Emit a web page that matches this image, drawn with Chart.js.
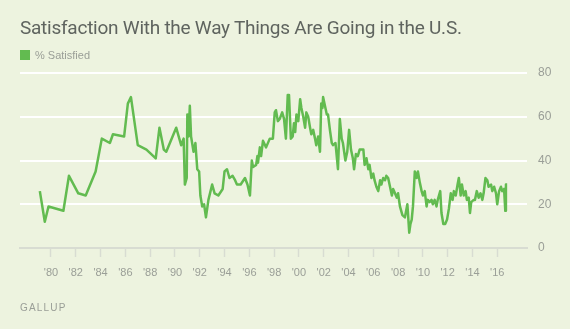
<!DOCTYPE html>
<html>
<head>
<meta charset="utf-8">
<script src="https://cdn.jsdelivr.net/npm/chart.js@4.4.0/dist/chart.umd.min.js"></script>
<style>
  body { margin: 0; background: #edf3df; }
  #wrap { position: relative; width: 570px; height: 329px; background: #edf3df; overflow: hidden; }
  #title { position: absolute; left: 20px; top: 16px; font-family: Roboto, "Liberation Sans", sans-serif; font-size: 19px; letter-spacing: -0.25px; color: #5f645f; white-space: nowrap; }
  #legend { position: absolute; left: 20px; top: 49px; font-family: "Liberation Sans", sans-serif; font-size: 11px; color: #9a9e97; }
  #legend span.box { display: inline-block; width: 10px; height: 10px; background: #62bb50; vertical-align: -1px; margin-right: 5px; }
  #source { position: absolute; left: 20px; top: 302px; font-family: "Liberation Sans", sans-serif; font-size: 10px; letter-spacing: 1.2px; color: #9a9e97; }
  canvas { position: absolute; left: 0; top: 0; }
</style>
</head>
<body>
<div id="wrap">
  <canvas id="myChart" width="570" height="329"></canvas>
  <div id="title">Satisfaction With the Way Things Are Going in the U.S.</div>
  <div id="legend"><span class="box"></span>% Satisfied</div>
  <div id="source">GALLUP</div>
</div>
<script>
// survey dates (decimal years) and % satisfied
const surveyDates = [
  1979.1, 1979.5, 1979.8, 1981.0, 1981.45, 1982.2, 1982.8, 1983.6, 1984.1, 1984.75,
  1985.0, 1985.9, 1986.2, 1986.45, 1987.0, 1987.7, 1988.45, 1988.75, 1989.1, 1989.3,
  1990.1, 1990.5, 1990.7, 1990.8, 1990.95, 1991.0, 1991.1, 1991.2, 1991.3, 1991.5,
  1991.65, 1991.8, 1991.95, 1992.05, 1992.2, 1992.35, 1992.5, 1992.7, 1993.0, 1993.2,
  1993.5, 1993.85, 1994.0, 1994.2, 1994.4, 1994.65, 1994.85, 1995.0, 1995.3, 1995.65,
  1995.85, 1996.05, 1996.2, 1996.3, 1996.55, 1996.65, 1996.7, 1996.85, 1996.95, 1997.1,
  1997.35, 1997.65, 1997.9, 1998.05, 1998.15, 1998.3, 1998.45, 1998.65, 1998.8, 1998.95,
  1999.1, 1999.2, 1999.35, 1999.5, 1999.6, 1999.7, 1999.8, 1999.95, 2000.1, 2000.2,
  2000.35, 2000.5, 2000.6, 2000.75, 2000.9, 2001.0, 2001.15, 2001.3, 2001.4, 2001.55,
  2001.7, 2001.8, 2001.9, 2001.95, 2002.1, 2002.25, 2002.35, 2002.5, 2002.65, 2002.75,
  2002.95, 2003.15, 2003.3, 2003.45, 2003.55, 2003.75, 2003.9, 2004.05, 2004.2, 2004.35,
  2004.45, 2004.6, 2004.75, 2004.9, 2005.2, 2005.3, 2005.45, 2005.6, 2005.7, 2005.85,
  2006.0, 2006.1, 2006.25, 2006.4, 2006.55, 2006.65, 2006.8, 2006.95, 2007.05, 2007.2,
  2007.35, 2007.5, 2007.6, 2007.75, 2007.9, 2008.0, 2008.15, 2008.35, 2008.55, 2008.75,
  2008.9, 2009.0, 2009.1, 2009.2, 2009.35, 2009.5, 2009.6, 2009.75, 2009.9, 2010.0,
  2010.15, 2010.3, 2010.4, 2010.55, 2010.7, 2010.8, 2010.95, 2011.1, 2011.2, 2011.4,
  2011.5, 2011.65, 2011.8, 2011.95, 2012.1, 2012.25, 2012.4, 2012.5, 2012.65, 2012.8,
  2012.9, 2013.05, 2013.15, 2013.3, 2013.45, 2013.55, 2013.7, 2013.8, 2013.9, 2014.1,
  2014.2, 2014.35, 2014.5, 2014.65, 2014.8, 2014.9, 2015.05, 2015.2, 2015.3, 2015.5,
  2015.6, 2015.75, 2015.9, 2016.0, 2016.15, 2016.3, 2016.4, 2016.55, 2016.65, 2016.7,
  2016.8
];
const pctSatisfied = [
  26, 12, 19, 17, 33, 25, 24, 35, 50, 48,
  52, 51, 66, 69, 47, 45, 41, 55, 45, 44,
  55, 47, 50, 29, 32, 61, 51, 65, 51, 44,
  48, 36, 35, 24, 19, 20, 14, 22, 29, 25,
  24, 27, 35, 36, 32, 33, 31, 29, 29, 32,
  29, 24, 40, 37, 38, 42, 39, 46, 42, 49,
  46, 50, 50, 62, 63, 58, 59, 62, 59, 50,
  70, 70, 50, 51, 57, 53, 61, 58, 68, 64,
  60, 55, 62, 60, 55, 52, 54, 50, 47, 51,
  44, 66, 64, 69, 65, 61, 61, 54, 48, 47,
  48, 36, 59, 50, 48, 40, 44, 54, 45, 41,
  36, 43, 42, 45, 45, 38, 41, 36, 38, 32,
  34, 31, 28, 26, 31, 29, 32, 31, 33, 32,
  28, 24, 27, 25, 23, 25, 19, 15, 14, 20,
  7, 11, 13, 19, 35, 32, 35, 30, 26, 24,
  26, 19, 22, 21, 22, 20, 22, 19, 22, 26,
  16, 11, 11, 13, 18, 25, 22, 26, 24, 29,
  32, 24, 29, 24, 26, 22, 23, 16, 21, 22,
  22, 26, 23, 25, 22, 25, 32, 31, 28, 29,
  26, 28, 25, 20, 26, 28, 26, 27, 17, 29,
  29
];
const yearTicks = [1980, 1982, 1984, 1986, 1988, 1990, 1992, 1994, 1996, 1998,
  2000, 2002, 2004, 2006, 2008, 2010, 2012, 2014, 2016];
const valueTicks = [0, 20, 40, 60, 80];

const points = surveyDates.map((d, i) => {
  return { x: d, y: pctSatisfied[i] };
});

const canvas = document.getElementById("myChart").getContext("2d");
let satisfactionChart = new Chart(canvas, {
  type: "line",
  data: {
    datasets: [
      {
        label: "% Satisfied",
        data: points,
        borderColor: "#62bb50",
        borderWidth: 2.5,
        borderJoinStyle: "round",
        pointRadius: 0,
        tension: 0,
        fill: false,
      },
    ],
  },
  options: {
    responsive: false,
    animation: false,
    layout: { padding: { left: 20, top: 73, right: 0, bottom: 0 } },
    plugins: {
      legend: { display: false },
      tooltip: { enabled: false },
    },
    scales: {
      x: {
        type: "linear",
        min: 1977.5,
        max: 2018.4,
        afterBuildTicks: (scale) => {
          scale.ticks = yearTicks.map((v) => ({ value: v }));
        },
        afterFit: (scale) => {
          scale.height = 81;
        },
        border: { display: true, color: "#d8dcd2", width: 2 },
        grid: {
          drawOnChartArea: false,
          drawTicks: true,
          tickLength: 9,
          tickWidth: 1.5,
          tickColor: "#d8dcd2",
        },
        ticks: {
          padding: 9,
          maxRotation: 0,
          autoSkip: false,
          color: "#9a9e97",
          font: { family: "Liberation Sans", size: 11 },
          callback: (v) => "'" + String(v).slice(2),
        },
      },
      y: {
        position: "right",
        min: 0,
        max: 80,
        afterBuildTicks: (scale) => {
          scale.ticks = valueTicks.map((v) => ({ value: v }));
        },
        afterFit: (scale) => {
          scale.width = 43;
        },
        border: { display: false },
        grid: {
          drawTicks: false,
          lineWidth: 2,
          color: (ctx) => (ctx.tick && ctx.tick.value === 0 ? "rgba(0,0,0,0)" : "#ffffff"),
        },
        ticks: {
          padding: 11,
          color: "#9a9e97",
          font: { family: "Liberation Sans", size: 12 },
        },
      },
    },
  },
});
</script>
</body>
</html>
